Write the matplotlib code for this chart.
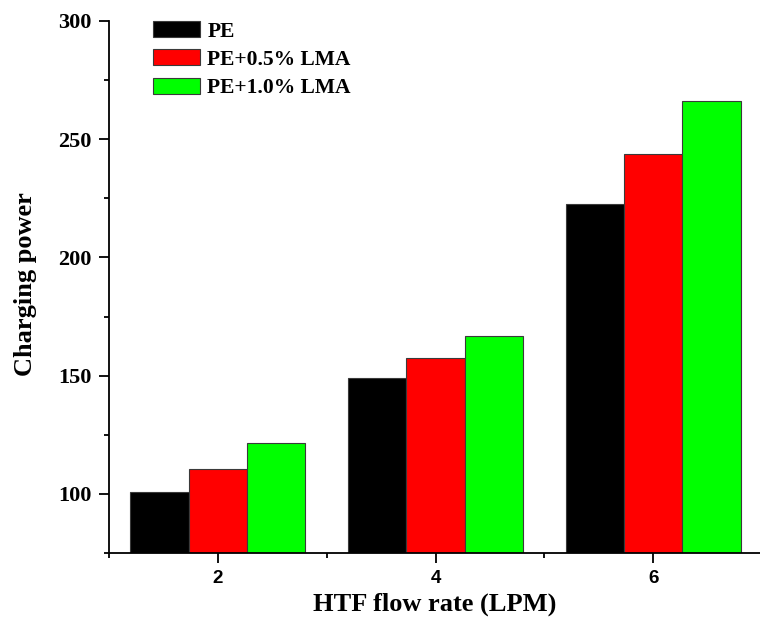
import matplotlib.pyplot as plt
import numpy as np
from matplotlib.ticker import MultipleLocator

# charging power per HTF flow rate
flow_rates = [2, 4, 6]
pe = [100.7, 149.0, 222.8]
pe_05 = [110.7, 157.5, 243.9]
pe_10 = [121.6, 166.8, 266.2]

series = [
    ("PE", pe, "#000000"),
    ("PE+0.5% LMA", pe_05, "#ff0000"),
    ("PE+1.0% LMA", pe_10, "#00ff00"),
]

serif = "Liberation Serif"
sans = "Liberation Sans"

fig = plt.figure(figsize=(7.6, 6.28), dpi=100)
ax = fig.add_axes([0.1434, 0.1194, 0.8566, 0.8472])

width = 0.535
x = np.array(flow_rates, dtype=float)
for i, (name, vals, color) in enumerate(series):
    ax.bar(x + (i - 1) * width, vals, width=width, color=color,
           edgecolor="#3a3a3a", linewidth=0.8, label=name)

ax.set_xlim(1, 6.98)
ax.set_ylim(75, 300)
ax.set_xticks(flow_rates)
ax.xaxis.set_minor_locator(MultipleLocator(1))
ax.set_yticks([100, 150, 200, 250, 300])
ax.yaxis.set_minor_locator(MultipleLocator(25))

for side in ["top", "right"]:
    ax.spines[side].set_visible(False)
for side in ["left", "bottom"]:
    ax.spines[side].set_linewidth(1.3)

ax.tick_params(which="major", direction="out", length=7.5, width=1.3, pad=5)
ax.tick_params(which="minor", direction="out", length=3.5, width=1.3)

for lbl in ax.get_xticklabels():
    lbl.set_fontfamily(sans)
    lbl.set_fontweight("bold")
    lbl.set_fontsize(13.5)
for lbl in ax.get_yticklabels():
    lbl.set_fontfamily(serif)
    lbl.set_fontweight("bold")
    lbl.set_fontsize(16)

ax.set_xlabel("HTF flow rate (LPM)", fontfamily=serif, fontweight="bold", fontsize=19)
ax.set_ylabel("Charging power", fontfamily=serif, fontweight="bold", fontsize=19)
ax.xaxis.set_label_coords(0.5, -0.075)
ax.yaxis.set_label_coords(-0.111, 0.506)

ax.legend(loc="upper left", bbox_to_anchor=(153 / 760, 1 - 21 / 628),
          bbox_transform=fig.transFigure, frameon=False,
          prop={"family": serif, "weight": "bold", "size": 15.5},
          handlelength=2.2, handleheight=0.77, handletextpad=0.32,
          labelspacing=0.36, borderpad=0, borderaxespad=0)

fig.savefig("out.png", dpi=100)
